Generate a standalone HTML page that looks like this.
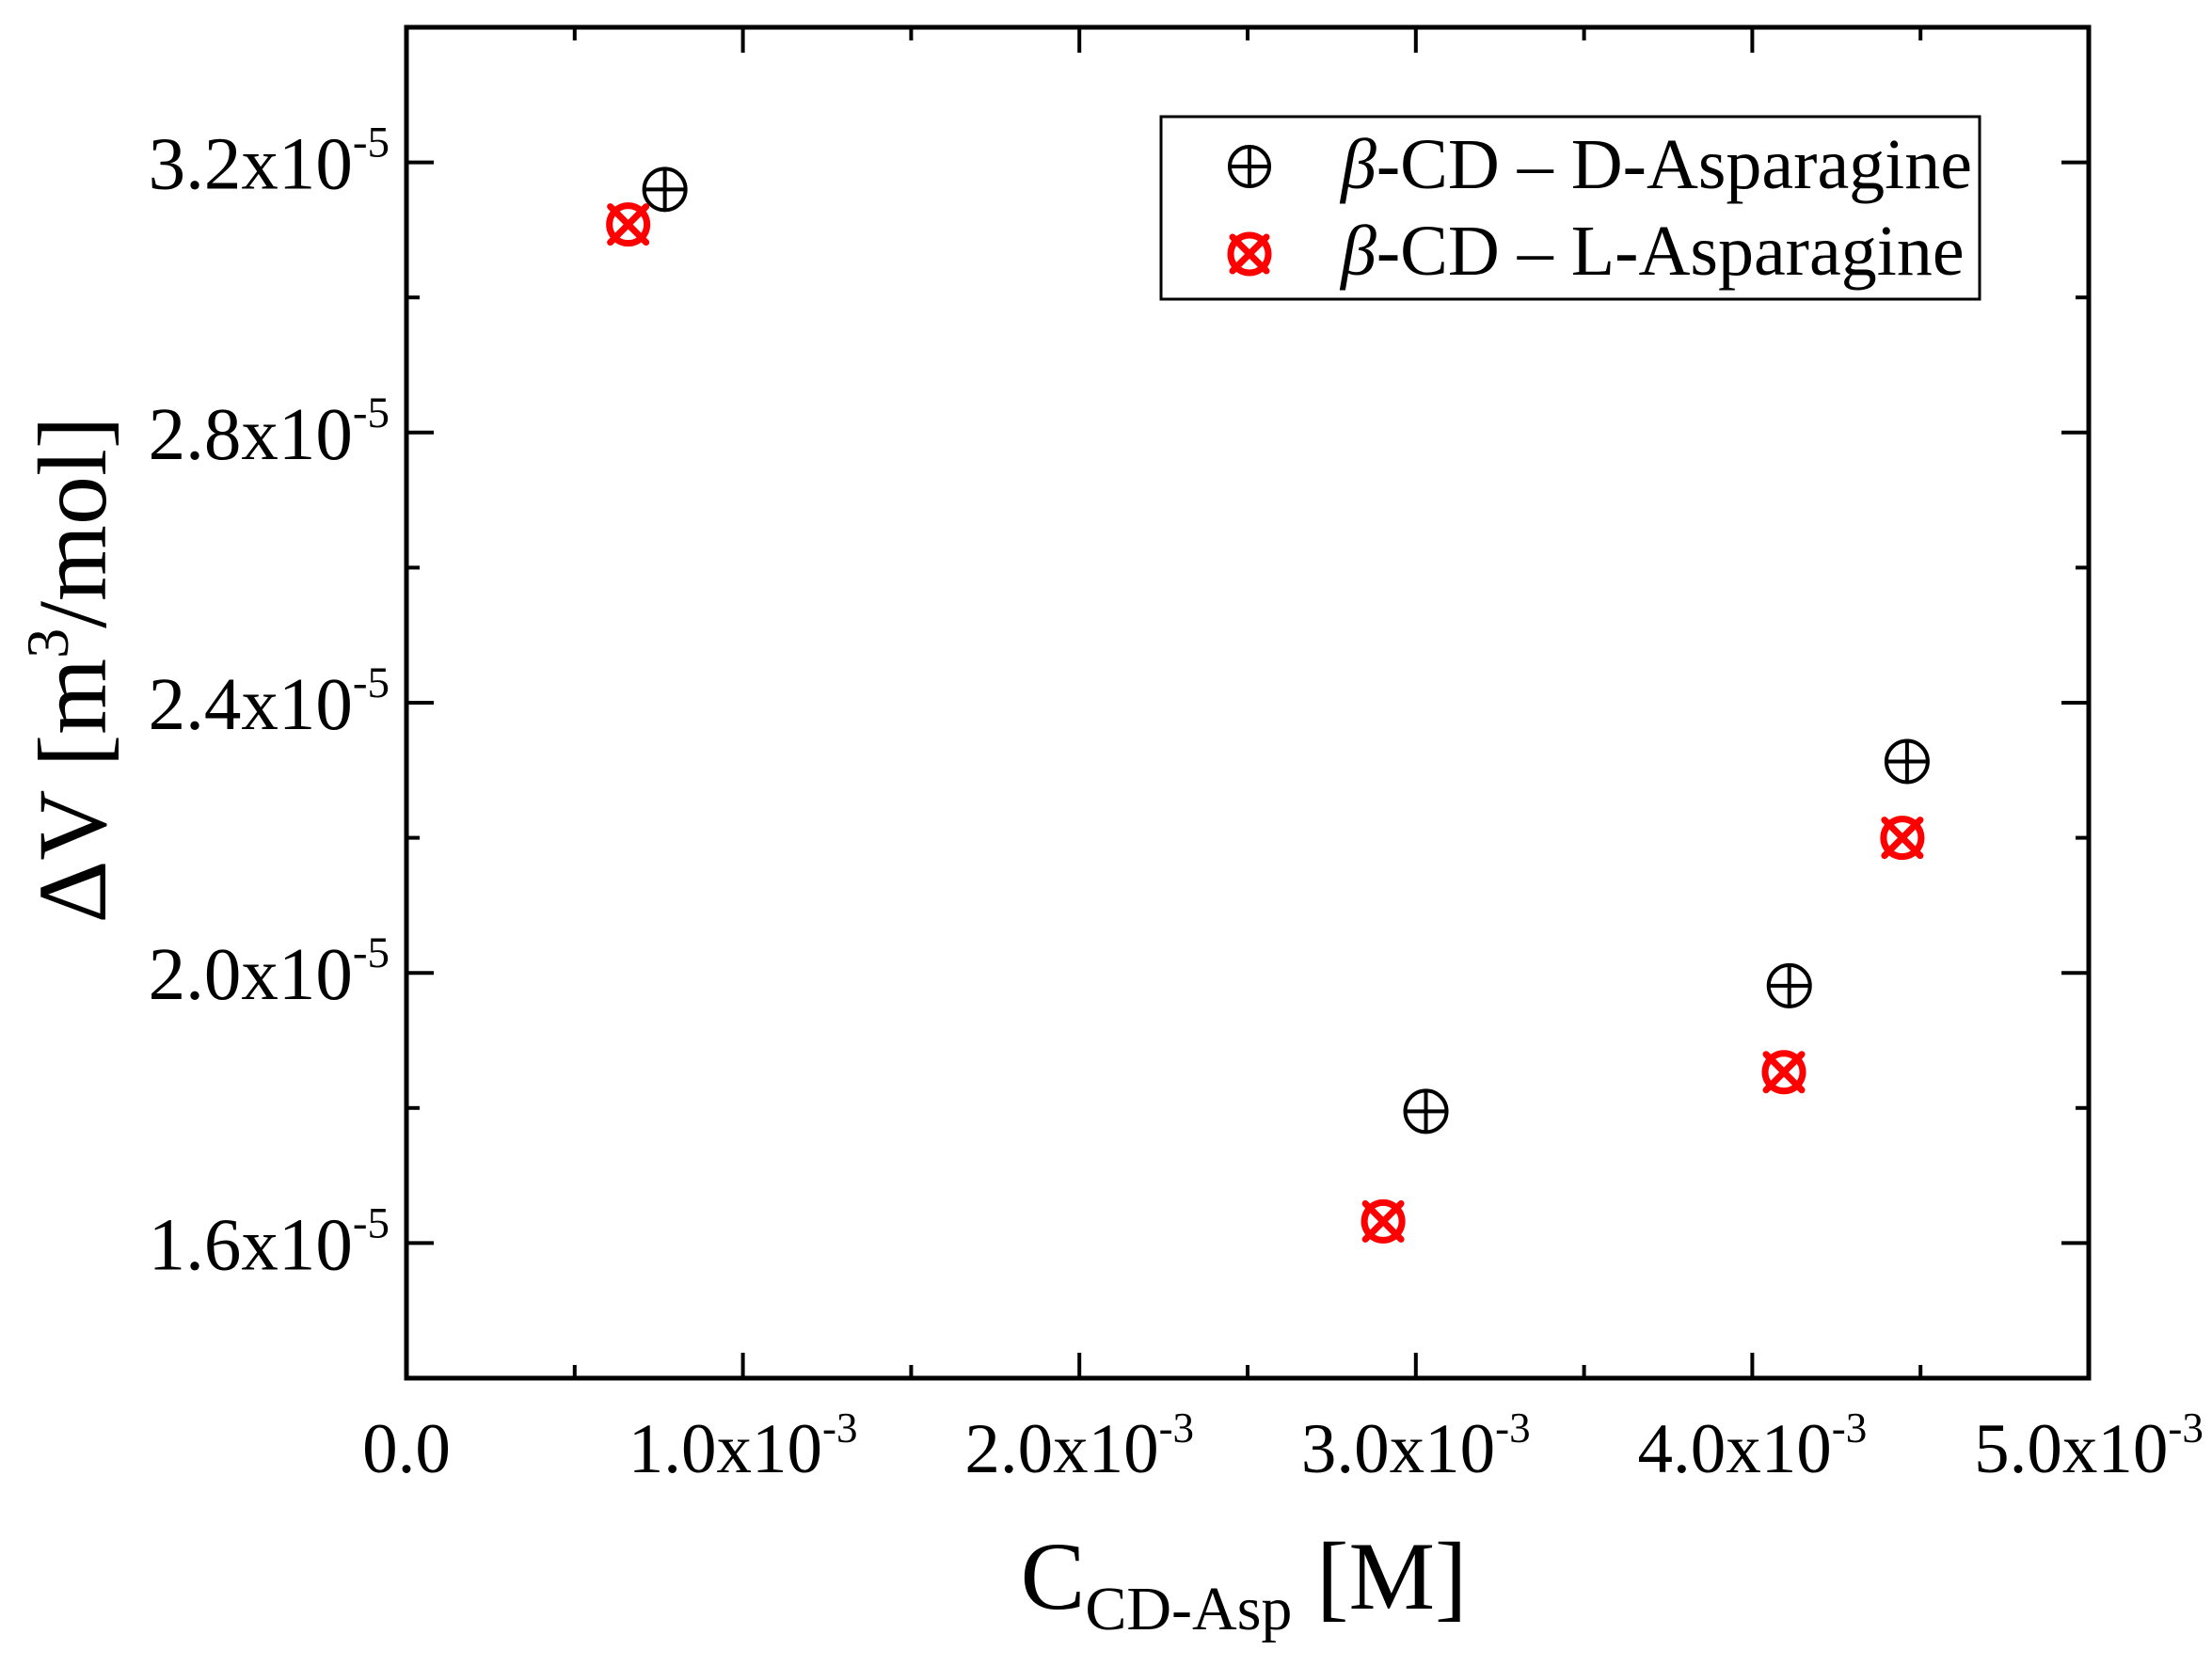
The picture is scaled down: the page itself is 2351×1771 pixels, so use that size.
<!DOCTYPE html>
<html><head><meta charset="utf-8">
<style>
html,body{margin:0;padding:0;background:#fff;}
svg{display:block;font-family:"Liberation Serif",serif;}
</style></head>
<body>
<svg id="chart" width="2351" height="1771" viewBox="0 0 2351 1771" xmlns="http://www.w3.org/2000/svg">
<rect x="0" y="0" width="2351" height="1771" fill="#fff"/>
<g id="ticks"></g>
<g id="labels"></g>
<g id="marks"></g>
<rect x="432" y="29" width="1788" height="1436" fill="none" stroke="#000" stroke-width="5"/>
<text x="1322" y="1710" text-anchor="middle" font-size="103">C<tspan font-size="66" dy="22">CD-Asp</tspan><tspan dy="-22"> [M]</tspan></text>
<text transform="translate(112,712) rotate(-90)" text-anchor="middle" font-size="104">ΔV [m<tspan font-size="64" dy="-40">3</tspan><tspan dy="40">/mol]</tspan></text>
<g>
<rect x="1234" y="124" width="870" height="194" fill="#fff" stroke="#000" stroke-width="3"/>
<g>
<circle cx="1328" cy="177" r="21" fill="none" stroke="#000" stroke-width="4"/>
<line x1="1307" y1="177" x2="1349" y2="177" stroke="#000" stroke-width="4"/>
<line x1="1328" y1="156" x2="1328" y2="198" stroke="#000" stroke-width="4"/>
<text x="1425" y="200" font-size="76"><tspan font-style="italic">β</tspan>-CD – D-Asparagine</text>
</g>
<g>
<circle cx="1328" cy="270" r="20" fill="none" stroke="#f00" stroke-width="7"/>
<line x1="1310" y1="252" x2="1346" y2="288" stroke="#f00" stroke-width="7" stroke-linecap="round"/>
<line x1="1346" y1="252" x2="1310" y2="288" stroke="#f00" stroke-width="7" stroke-linecap="round"/>
<text x="1425" y="292" font-size="76"><tspan font-style="italic">β</tspan>-CD – L-Asparagine</text>
</g>
</g>
</svg>
<script>
const xTickValues = [0, 1, 2, 3, 4, 5];
const xTickLabels = ["0.0", "1.0x10", "2.0x10", "3.0x10", "4.0x10", "5.0x10"];
const yTickValues = [1.6, 2.0, 2.4, 2.8, 3.2];
const yTickLabels = ["1.6x10", "2.0x10", "2.4x10", "2.8x10", "3.2x10"];
const dX = [0.768, 3.03, 4.11, 4.46];
const dY = [3.160, 1.795, 1.981, 2.313];
const lX = [0.659, 2.903, 4.094, 4.446];
const lY = [3.108, 1.632, 1.853, 2.200];

const X0 = 432, X1 = 2220, Y0 = 1465, Y1 = 29;
const xMin = 0, xMax = 5, yMin = 1.4, yMax = 3.4;
function sx(v){ return X0 + (v - xMin) / (xMax - xMin) * (X1 - X0); }
function sy(v){ return Y0 - (v - yMin) / (yMax - yMin) * (Y0 - Y1); }
const NS = "http://www.w3.org/2000/svg";
function mk(tag, attrs, parent){
  const e = document.createElementNS(NS, tag);
  for (const k in attrs) e.setAttribute(k, attrs[k]);
  parent.appendChild(e);
  return e;
}
const ticks = document.getElementById('ticks');
const labels = document.getElementById('labels');
const marks = document.getElementById('marks');

for (let v = xMin; v <= xMax + 1e-9; v += 0.5) {
  const major = Math.abs(v - Math.round(v)) < 1e-9;
  const len = major ? 27 : 14;
  const x = sx(v);
  const b = mk('line', {x1:x, y1:Y0, x2:x, y2:Y0-len, stroke:'#000', 'stroke-width':4}, ticks);
  
  
  const t = mk('line', {x1:x, y1:Y1, x2:x, y2:Y1+len, stroke:'#000', 'stroke-width':4}, ticks);
  
  
}
for (let v = yMin; v <= yMax + 1e-9; v += 0.2) {
  const major = Math.abs((v - 1.6) / 0.4 - Math.round((v - 1.6) / 0.4)) < 1e-6;
  const len = major ? 29 : 14;
  const y = sy(v);
  const l = mk('line', {x1:X0, y1:y, x2:X0+len, y2:y, stroke:'#000', 'stroke-width':4}, ticks);
  
  
  const r = mk('line', {x1:X1, y1:y, x2:X1-len, y2:y, stroke:'#000', 'stroke-width':4}, ticks);
  
  
}
xTickValues.forEach((v, i) => {
  const t = mk('text', {x:sx(v), y:1565, 'text-anchor':'middle', 'font-size':75}, labels);
  
  
  t.textContent = xTickLabels[i];
  if (v !== 0) {
    const s = mk('tspan', {'font-size':45, dy:-32}, t);
    s.textContent = '-3';
  }
});
yTickValues.forEach((v, i) => {
  const t = mk('text', {x:414, y:sy(v)+28, 'text-anchor':'end', 'font-size':79}, labels);
  
  
  t.textContent = yTickLabels[i];
  const s = mk('tspan', {'font-size':47, dy:-34}, t);
  s.textContent = '-5';
});
dX.forEach((v, i) => {
  const cx = sx(v), cy = sy(dY[i]);
  const g = mk('g', {}, marks);
  
  
  mk('circle', {cx:cx, cy:cy, r:22, fill:'none', stroke:'#000', 'stroke-width':4}, g);
  mk('line', {x1:cx-22, y1:cy, x2:cx+22, y2:cy, stroke:'#000', 'stroke-width':4}, g);
  mk('line', {x1:cx, y1:cy-22, x2:cx, y2:cy+22, stroke:'#000', 'stroke-width':4}, g);
});
lX.forEach((v, i) => {
  const cx = sx(v), cy = sy(lY[i]);
  const g = mk('g', {}, marks);
  
  
  mk('circle', {cx:cx, cy:cy, r:20, fill:'none', stroke:'#f00', 'stroke-width':7}, g);
  mk('line', {x1:cx-19, y1:cy-19, x2:cx+19, y2:cy+19, stroke:'#f00', 'stroke-width':7, 'stroke-linecap':'round'}, g);
  mk('line', {x1:cx+19, y1:cy-19, x2:cx-19, y2:cy+19, stroke:'#f00', 'stroke-width':7, 'stroke-linecap':'round'}, g);
});
</script>
</body></html>
